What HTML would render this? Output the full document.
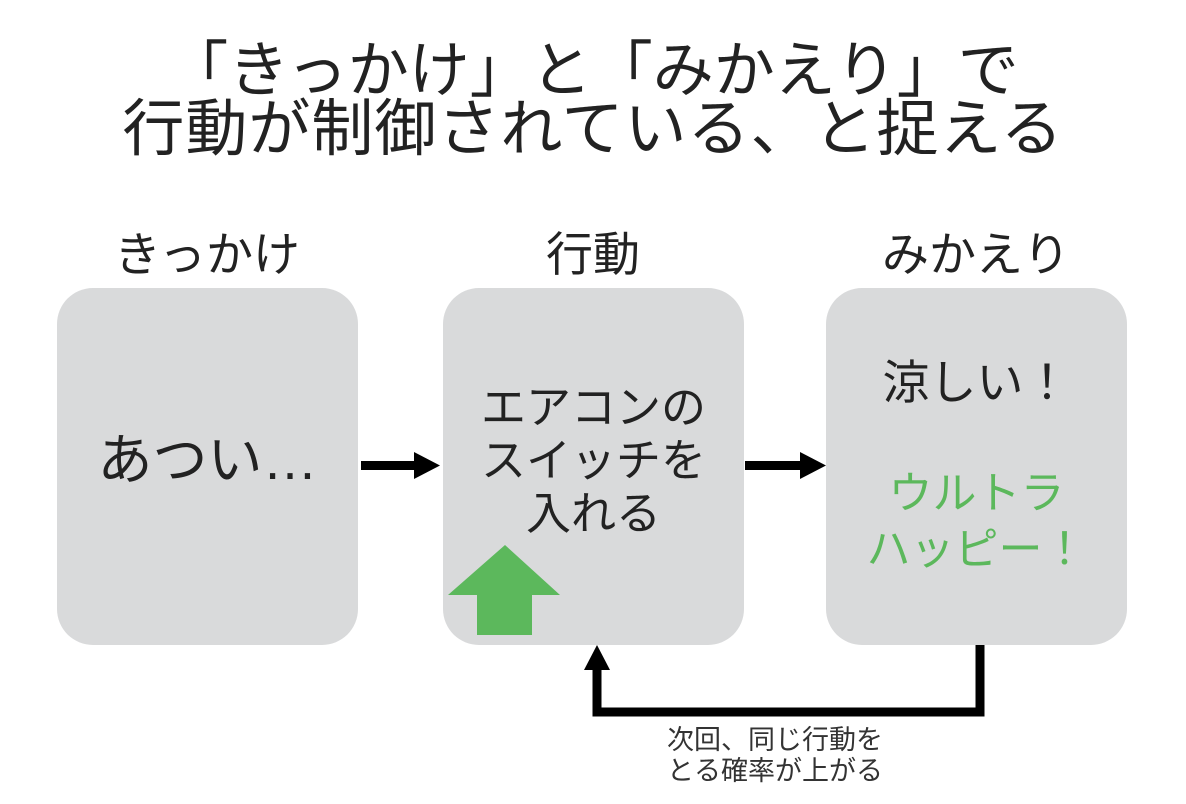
<!DOCTYPE html>
<html><head><meta charset="utf-8"><style>
body{margin:0;width:1186px;height:804px;background:#fff;position:relative;overflow:hidden;font-family:"Liberation Sans","Noto Sans CJK JP",sans-serif;color:#222}
.t{position:absolute;left:0;width:1186px;text-align:center;font-size:60px;line-height:60px;white-space:nowrap}
.l{position:absolute;font-size:47px;text-align:center;width:300px;line-height:50px}
.b{position:absolute;top:288px;width:301px;height:357px;background:#d9dadb;border-radius:36px}
.bt{position:absolute;font-size:45px;text-align:center;line-height:53px;white-space:nowrap}
</style></head><body>
<div class="t" style="top:40px;font-size:61px">「きっかけ」と「みかえり」で</div>
<div class="t" style="top:100px;font-size:62px;letter-spacing:1px">行動が制御されている、と捉える</div>
<div class="l" style="left:57px;top:230px">きっかけ</div>
<div class="l" style="left:443px;top:230px">行動</div>
<div class="l" style="left:826px;top:230px">みかえり</div>
<div class="b" style="left:57px"></div>
<div class="b" style="left:443px"></div>
<div class="b" style="left:826px"></div>
<div class="bt" style="left:57px;width:301px;top:434px;font-size:55px">あつい…</div>
<div class="bt" style="left:443px;width:301px;top:381px">エアコンの<br>スイッチを<br>入れる</div>
<div class="bt" style="left:826px;width:301px;top:356px;font-size:47px">涼しい！</div>
<div class="bt" style="left:826px;width:301px;top:466px;color:#5cb85c;font-size:44px;line-height:56px">ウルトラ<br>ハッピー！</div>
<svg width="1186" height="804" style="position:absolute;left:0;top:0">
<polygon points="505,545 560,595 532,595 532,635 477,635 477,595 448,595" fill="#5cb85c"/>
<rect x="361" y="461" width="55" height="9" fill="#000"/>
<polygon points="414,452 440,465.5 414,479" fill="#000"/>
<rect x="745" y="461" width="57" height="9" fill="#000"/>
<polygon points="800,452 826,465.5 800,479" fill="#000"/>
<path d="M980 645 V712 H597 V668" fill="none" stroke="#000" stroke-width="9"/>
<polygon points="584,670 597,645 610,670" fill="#000"/>
</svg>
<div style="position:absolute;left:620px;top:725px;width:310px;text-align:center;font-size:27px;line-height:31px;color:#333">次回、同じ行動を<br>とる確率が上がる</div>
</body></html>
